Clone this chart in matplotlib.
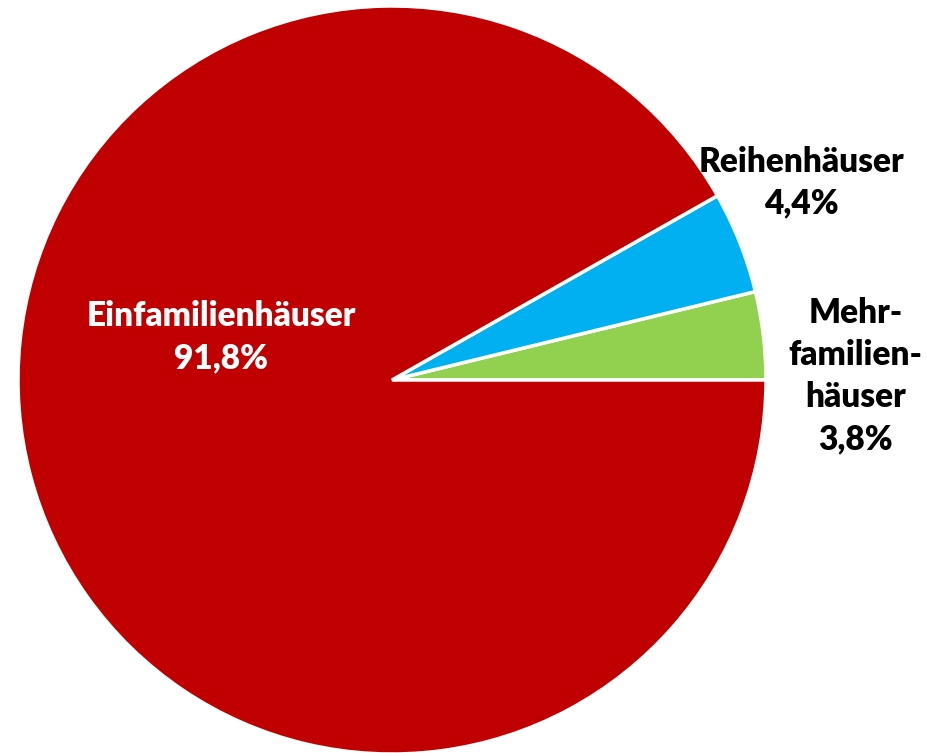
import matplotlib.pyplot as plt

# Data
labels = ['Mehr-\nfamilien-\nhäuser', 'Reihenhäuser', 'Einfamilienhäuser']
values = [3.8, 4.4, 91.8]
pct_text = ['3,8%', '4,4%', '91,8%']
colors = ['#92D050', '#00B0F0', '#C00000']

plt.rcParams['font.family'] = ['Lato', 'DejaVu Sans']

fig = plt.figure(figsize=(9.27, 7.53), dpi=100)
ax = fig.add_axes([18 / 927, -1 / 753, 748 / 927, 748 / 753])

ax.pie(values, colors=colors, startangle=0, counterclock=True,
       wedgeprops=dict(edgecolor='white', linewidth=2.5))
ax.set_xlim(-1, 1)
ax.set_ylim(-1, 1)
ax.set_aspect('equal')
ax.axis('off')

# Labels
label_pos = [(1.24, 0.01), (1.095, 0.528), (-0.456, 0.115)]
text_colors = ['black', 'black', 'white']
for lab, pct, (x, y), c in zip(labels, pct_text, label_pos, text_colors):
    ax.text(x, y, lab + '\n' + pct, ha='center', va='center', color=c,
            fontsize=24, fontweight='heavy', linespacing=1.38)

fig.savefig('out.png', dpi=100)
